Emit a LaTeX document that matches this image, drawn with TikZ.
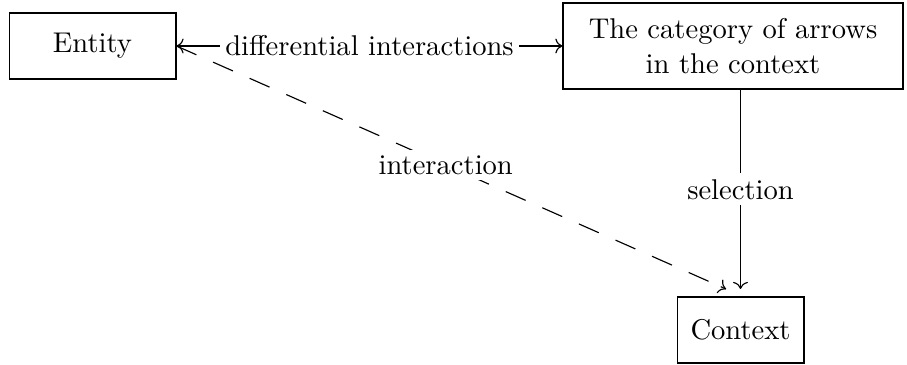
\documentclass[tikz,border=0pt]{standalone}
\usetikzlibrary{arrows.meta,calc}
\begin{document}
\begin{tikzpicture}[x=0.35pt,y=-0.35pt,
  box/.style={draw, thin, inner sep=0pt, align=center},
  lab/.style={fill=white, inner sep=2pt},
  conn/.style={thin, -{To}},
  dashconn/.style={thin, dash pattern=on 7.6pt off 6.4pt}]
\useasboundingbox (0,0) rectangle (907,365);
\node[box, minimum width=58.4pt, minimum height=23.1pt] (entity) at (92.5,46) {Entity};
\node[box, minimum width=119pt, minimum height=30.1pt] (cat) at (733,46) {The category of arrows\\in the context};
\node[box, minimum width=44.4pt, minimum height=23.1pt] (ctx) at (740.5,330) {Context};
\coordinate (dend) at (726,289);
\coordinate (vend) at (740.5,289);
\draw[thin, {To}-{To}] (entity) -- node[lab] {differential interactions} (cat);
\draw[conn] (cat.south -| ctx.north) -- node[lab] {selection} (vend);
\draw[dashconn] (entity.east) -- node[lab, pos=0.49] {interaction} (dend);
\draw[conn] ($(dend)!2pt!(entity.east)$) -- (dend);
\end{tikzpicture}
\end{document}
